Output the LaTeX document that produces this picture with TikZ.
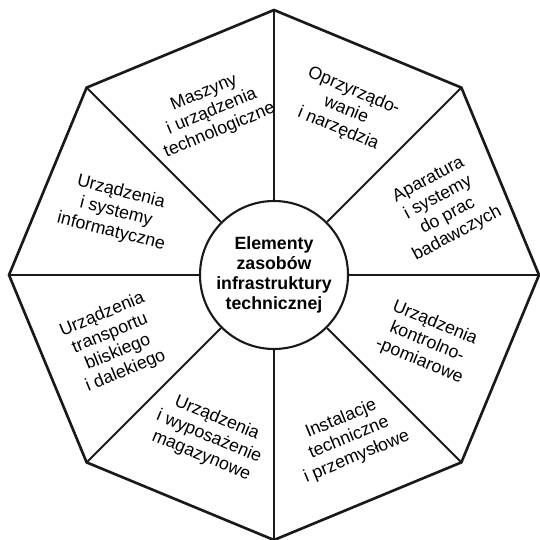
\documentclass[tikz,border=0pt]{standalone}
\usepackage{fontspec}
\setmainfont{Liberation Sans}
\begin{document}
\begin{tikzpicture}[>=latex, scale=1,
    sector/.style={align=center, inner sep=0pt, font=\fontsize{10.1}{11.6}\selectfont},
    spoke/.style={line width=1.2pt, black!90},
    rim/.style={line width=1.5pt, black!90, line join=miter}]
\useasboundingbox (-5.48,-5.30) rectangle (5.32,5.50);
\coordinate (v1) at (90:5.3);
\coordinate (v2) at (45:5.3);
\coordinate (v3) at (0:5.3);
\coordinate (v4) at (-45:5.3);
\coordinate (v5) at (-90:5.3);
\coordinate (v6) at (-135:5.3);
\coordinate (v7) at (180:5.3);
\coordinate (v8) at (135:5.3);
\draw[rim](v1)--(v2)--(v3)--(v4)--(v5)--(v6)--(v7)--(v8)--cycle;
\node (core) at (0,0)[circle, draw, line width=1.2pt, draw=black!90, minimum size=2.96cm, inner sep=0pt,
    align=center, font=\fontsize{10.1}{11.3}\selectfont\bfseries]{Elementy\\zasobów\\infrastruktury\\technicznej};
\draw[spoke](core)--(v1);
\draw[spoke](core)--(v2);
\draw[spoke](core)--(v3);
\draw[spoke](core)--(v4);
\draw[spoke](core)--(v5);
\draw[spoke](core)--(v6);
\draw[spoke](core)--(v7);
\draw[spoke](core)--(v8);
\node (maszyny) at (-1.24,3.26)[sector, rotate=22.5]{Maszyny\\i urządzenia\\technologiczne};
\node (oprzyrz) at (1.44,3.30)[sector, rotate=-22.5]{Oprzyrządo-\\wanie\\i narzędzia};
\node (aparatura) at (3.38,1.36)[sector, rotate=28]{Aparatura\\i systemy\\do prac\\badawczych};
\node (kontrola) at (3.06,-1.34)[sector, rotate=-22.5]{Urządzenia\\kontrolno-\\-pomiarowe};
\node (instalacje) at (1.50,-3.26)[sector, rotate=22.5]{Instalacje\\techniczne\\i przemysłowe};
\node (magazyn) at (-1.30,-3.24)[sector, rotate=-22.5]{Urządzenia\\i wyposażenie\\magazynowe};
\node (transport) at (-3.20,-1.36)[sector, rotate=22.5]{Urządzenia\\transportu\\bliskiego\\i dalekiego};
\node (informatyka) at (-3.16,1.26)[sector, rotate=-14]{Urządzenia\\i systemy\\informatyczne};
    \end{tikzpicture}
\end{document}
